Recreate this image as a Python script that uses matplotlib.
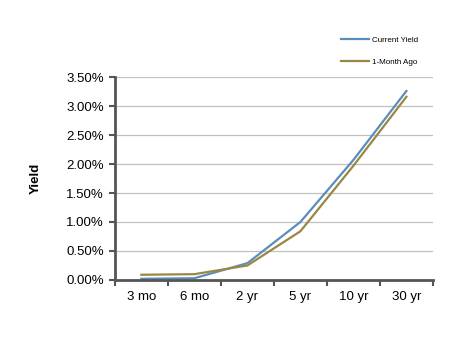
import matplotlib.pyplot as plt
import numpy as np
from matplotlib.ticker import FuncFormatter, MultipleLocator

# Treasury yield curve, current vs. one month earlier (percent)
maturities = ["3 mo", "6 mo", "2 yr", "5 yr", "10 yr", "30 yr"]
current_yield = [0.02, 0.03, 0.29, 1.00, 2.07, 3.26]
month_ago = [0.09, 0.10, 0.25, 0.84, 1.97, 3.16]

plt.rcParams["font.family"] = ["Liberation Sans", "DejaVu Sans"]

fig = plt.figure(figsize=(4.67, 3.41), dpi=100)
ax = fig.add_axes([0.246, 0.179, 0.681, 0.595])

x = np.arange(len(maturities))
ax.plot(x, current_yield, color="#5b8dbb", linewidth=1.6, label="Current Yield")
ax.plot(x, month_ago, color="#9a8744", linewidth=1.6, label="1-Month Ago")

ax.set_xlim(-0.5, len(maturities) - 0.5)
ax.set_ylim(0, 3.5)
ax.yaxis.set_major_locator(MultipleLocator(0.5))
ax.yaxis.set_major_formatter(FuncFormatter(lambda v, _: f"{v:.2f}%"))
ax.set_xticks(x)
ax.set_xticklabels(maturities)
ax.set_xticks(np.arange(-0.5, len(maturities)), minor=True)
ax.tick_params(axis="x", which="major", length=0, pad=8, labelsize=9.5)
ax.tick_params(axis="x", which="minor", length=4, width=1.5, color="#555555")
ax.tick_params(axis="y", length=4, width=1.5, color="#555555", labelsize=9.5, pad=4)

ax.grid(axis="y", color="#c0c0c0", linewidth=0.9)
ax.set_axisbelow(True)
for side in ("top", "right"):
    ax.spines[side].set_visible(False)
for side in ("left", "bottom"):
    ax.spines[side].set_color("#555555")
    ax.spines[side].set_linewidth(2)

ax.set_ylabel("Yield", fontsize=9.5, fontweight="bold")
ax.yaxis.set_label_coords(-0.23, 0.5)

leg = fig.legend(
    loc="upper left",
    bbox_to_anchor=(0.715, 0.915),
    frameon=False,
    fontsize=5.8,
    handlelength=3.5,
    labelspacing=1.8,
    handletextpad=0.3,
)

fig.savefig("out.png", dpi=100)
